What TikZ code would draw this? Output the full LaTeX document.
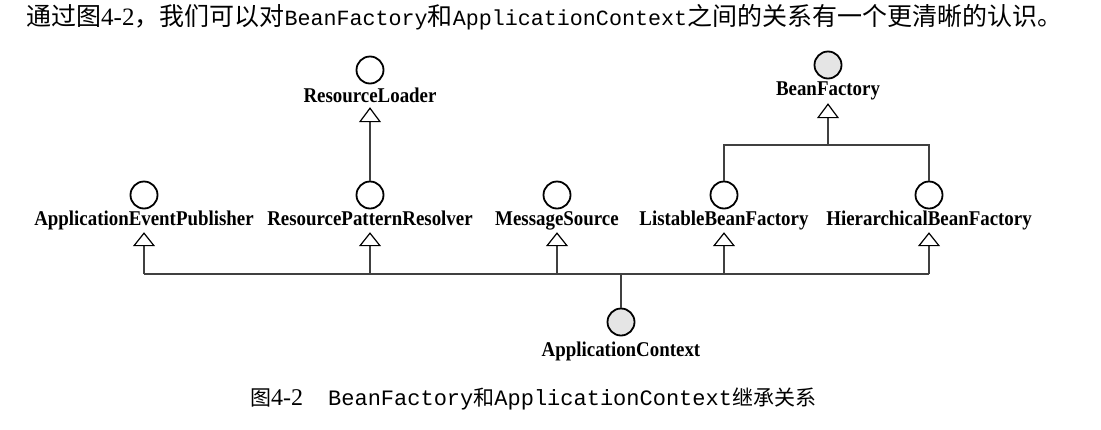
\documentclass[tikz,border=0pt]{standalone}
\usepackage{fontspec}
\setmainfont{Liberation Serif}
\newfontfamily\cjk{Noto Sans CJK SC}
\newfontfamily\mono{Liberation Mono}
\newfontfamily\lblfont[FakeStretch=0.9]{Liberation Serif}
\usetikzlibrary{arrows.meta}
\newcommand{\txtcjk}[1]{{\cjk\fontsize{25}{25}\selectfont #1}}
\newcommand{\txtmono}[1]{{\mono\fontsize{21.7}{22}\selectfont #1}}
\newcommand{\capcjk}[1]{{\cjk\fontsize{21}{21}\selectfont #1}}
\newcommand{\capmono}[1]{{\mono\fontsize{22}{22}\selectfont #1}}
\begin{document}
\begin{tikzpicture}[x=1pt,y=-1pt,
  iface/.style={circle,draw=black,line width=1.8pt,fill=white,minimum size=27pt,inner sep=0pt},
  core/.style={iface,fill=black!10},
  lbl/.style={font=\lblfont\bfseries\fontsize{21}{21}\selectfont,inner sep=0pt,anchor=base,text depth=7pt},
  conn/.style={draw=black!75,line width=1.3pt},
  inh/.style={conn,-{Triangle[open,length=14pt,width=22pt,line width=1.2pt,color=black]}},
  inhtop/.style={conn,-{Triangle[open,length=15pt,width=22pt,line width=1.2pt,color=black]}},
  txt/.style={inner sep=0pt,anchor=base west}
]
\useasboundingbox (0,0) rectangle (1101,429);

% intro line
\node[txt] (intro) at (26,25) {\txtcjk{通过图}{\rmfamily\fontsize{25}{25}\selectfont 4-2}\txtcjk{，我们可以对}\txtmono{BeanFactory}\txtcjk{和}\txtmono{ApplicationContext}\txtcjk{之间的关系有一个更清晰的认识。}};

% interface circles
\node[iface] (cRL)  at (370,70)  {};
\node[core]  (cBF)  at (828,65)  {};
\node[iface] (cAEP) at (144,195) {};
\node[iface] (cRPR) at (370,195) {};
\node[iface] (cMS)  at (557,195) {};
\node[iface] (cLBF) at (724,195) {};
\node[iface] (cHBF) at (929,195) {};
\node[core]  (cAC)  at (621,322) {};

% labels
\node[lbl,text depth=5pt] (lRL) at (370,102) {ResourceLoader};
\node[lbl,text depth=8pt] (lBF) at (828,95) {BeanFactory};
\node[lbl] (lAEP) at (144,225) {ApplicationEventPublisher};
\node[lbl] (lRPR) at (370,225) {ResourcePatternResolver};
\node[lbl] (lMS)  at (557,225) {MessageSource};
\node[lbl] (lLBF) at (724,225) {ListableBeanFactory};
\node[lbl] (lHBF) at (929,225) {HierarchicalBeanFactory};
\node[lbl] (lAC)  at (621,356) {ApplicationContext};

% connectors
\coordinate (busL) at (144,274);
\coordinate (busR) at (929,274);
\draw[conn] (busL) -- (busR);
\draw[conn] (cAC.north) -- (cAC.north |- busL);
\foreach \n in {AEP,RPR,MS,LBF,HBF}
  \draw[inh] (l\n.south |- busL) -- (l\n.south);
\draw[inhtop] (cRPR.north) -- (lRL.south);
\coordinate (fork) at (828,145);
\draw[inhtop] (fork) -- (lBF.south);
\draw[conn] (cLBF.north) |- (fork) -| (cHBF.north);

% caption
\node[txt] (caption) at (250,405) {\capcjk{图}{\rmfamily\fontsize{24}{24}\selectfont 4-2}\hspace{25pt}\capmono{BeanFactory}\capcjk{和}\capmono{ApplicationContext}\capcjk{继承关系}};
\end{tikzpicture}
\end{document}
